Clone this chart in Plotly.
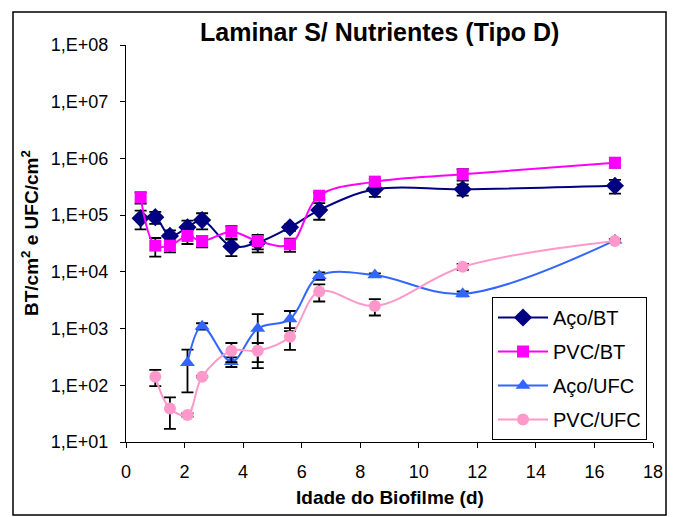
import plotly.graph_objects as go

# Biofilm age (days) for the total-count series
dias_bt = [0.5, 1.0, 1.5, 2.1, 2.6, 3.6, 4.5, 5.6, 6.6, 8.5, 11.5, 16.7]
aco_bt = [8.8e4, 9.2e4, 4.3e4, 6.1e4, 8.2e4, 2.8e4, 3.3e4, 6.1e4, 1.23e5, 2.85e5, 2.85e5, 3.3e5]
aco_bt_err = [3.2e4, 2.2e4, 1.1e4, 1.9e4, 2.6e4, 9e3, 1.1e4, 8e3, 4e4, 7.5e4, 6.5e4, 9e4]
pvc_bt = [2.06e5, 2.9e4, 2.9e4, 4.3e4, 3.5e4, 5.1e4, 3.5e4, 3.05e4, 2.2e5, 3.9e5, 5.25e5, 8.4e5]
pvc_bt_err = [4.7e4, 1.05e4, 7e3, 1.2e4, 8e3, 1.3e4, 1e4, 8e3, 3e4, 5e4, 1.2e5, 1.5e5]

# Colony-forming units
dias_aco_ufc = [2.1, 2.6, 3.6, 4.5, 5.6, 6.6, 8.5, 11.5, 16.7]
aco_ufc = [250, 1.1e3, 260, 1.0e3, 1.47e3, 8.5e3, 8.8e3, 4.1e3, 3.6e4]
aco_ufc_err = [175, 140, 50, 800, 570, 1.3e3, 600, 400, 2e3]

dias_pvc_ufc = [1.0, 1.5, 2.1, 2.6, 3.6, 4.5, 5.6, 6.6, 8.5, 11.5, 16.7]
pvc_ufc = [142, 39, 30, 142, 407, 407, 720, 4.5e3, 2.5e3, 1.23e4, 3.5e4]
pvc_ufc_err = [45, 22, 2, 4, 150, 150, 300, 1.5e3, 800, 1.5e3, 2e3]

y_tickvals = [1e1, 1e2, 1e3, 1e4, 1e5, 1e6, 1e7, 1e8]
y_ticktext = ["1,E+01", "1,E+02", "1,E+03", "1,E+04", "1,E+05", "1,E+06", "1,E+07", "1,E+08"]
x_tickvals = [0, 2, 4, 6, 8, 10, 12, 14, 16, 18]

FONT = "Liberation Sans, Arial, sans-serif"

series = [
    ("Aço/BT", dias_bt, aco_bt, aco_bt_err, "#000080", "diamond", 14),
    ("PVC/BT", dias_bt, pvc_bt, pvc_bt_err, "#FF00FF", "square", 12),
    ("Aço/UFC", dias_aco_ufc, aco_ufc, aco_ufc_err, "#3366FF", "triangle-up", 13),
    ("PVC/UFC", dias_pvc_ufc, pvc_ufc, pvc_ufc_err, "#FF99CC", "circle", 12),
]

fig = go.Figure()
for i, (name, xs, ys, err, color, sym, size) in enumerate(series):
    fig.add_trace(go.Scatter(
        x=xs, y=ys, name=name, mode="lines+markers",
        legendgroup=f"g{i}",
        line=dict(color=color, width=2, shape="spline", smoothing=1.0),
        marker=dict(symbol=sym, size=size, color=color),
        error_y=dict(type="data", array=err, visible=True,
                     color="black", thickness=1.8, width=6),
    ))

W, H = 677, 517
L, R, T, B = 126, 24, 45, 75
pw, ph = W - L - R, H - T - B


def px(xp):
    return (xp - L) / pw


def py(yp):
    return (H - B - yp) / ph


fig.update_layout(
    width=W, height=H,
    margin=dict(l=L, r=R, t=T, b=B),
    paper_bgcolor="white", plot_bgcolor="white",
    font=dict(family=FONT, color="black", size=18),
    showlegend=True,
    legend=dict(
        x=px(492), y=py(297), xanchor="left", yanchor="top",
        bordercolor="black", borderwidth=1, bgcolor="white",
        font=dict(size=20, family=FONT),
        itemwidth=50, tracegroupgap=5, traceorder="grouped",
    ),
    xaxis=dict(
        range=[0, 18], tickvals=x_tickvals, showgrid=False, zeroline=False,
        showline=True, linecolor="black", linewidth=1,
        ticks="outside", ticklen=5, tickcolor="black",
        tickfont=dict(size=18), ticklabelstandoff=8,
    ),
    yaxis=dict(
        type="log", range=[1, 8], tickvals=y_tickvals, ticktext=y_ticktext,
        showgrid=False, zeroline=False,
        showline=True, linecolor="black", linewidth=1,
        ticks="outside", ticklen=5, tickcolor="black",
        tickfont=dict(size=18), ticklabelstandoff=8,
    ),
    annotations=[
        dict(text="<b>Laminar S/ Nutrientes (Tipo D)</b>", xref="paper", yref="paper",
             x=px(379), y=py(32), xanchor="center", yanchor="middle",
             showarrow=False, font=dict(size=25)),
        dict(text="<b>Idade do Biofilme (d)</b>", xref="paper", yref="paper",
             x=px(390), y=py(497), xanchor="center", yanchor="middle",
             showarrow=False, font=dict(size=19)),
        dict(text="<b>BT/cm<sup>2</sup> e UFC/cm<sup>2</sup></b>", xref="paper", yref="paper",
             x=px(30), y=py(233), xanchor="center", yanchor="middle", textangle=-90,
             showarrow=False, font=dict(size=19)),
    ],
    shapes=[
        dict(type="rect", xref="paper", yref="paper",
             x0=px(13), x1=px(666), y0=py(515), y1=py(12),
             line=dict(color="black", width=1.5), fillcolor="rgba(0,0,0,0)", layer="below"),
    ],
)

fig.write_html("out.html")
